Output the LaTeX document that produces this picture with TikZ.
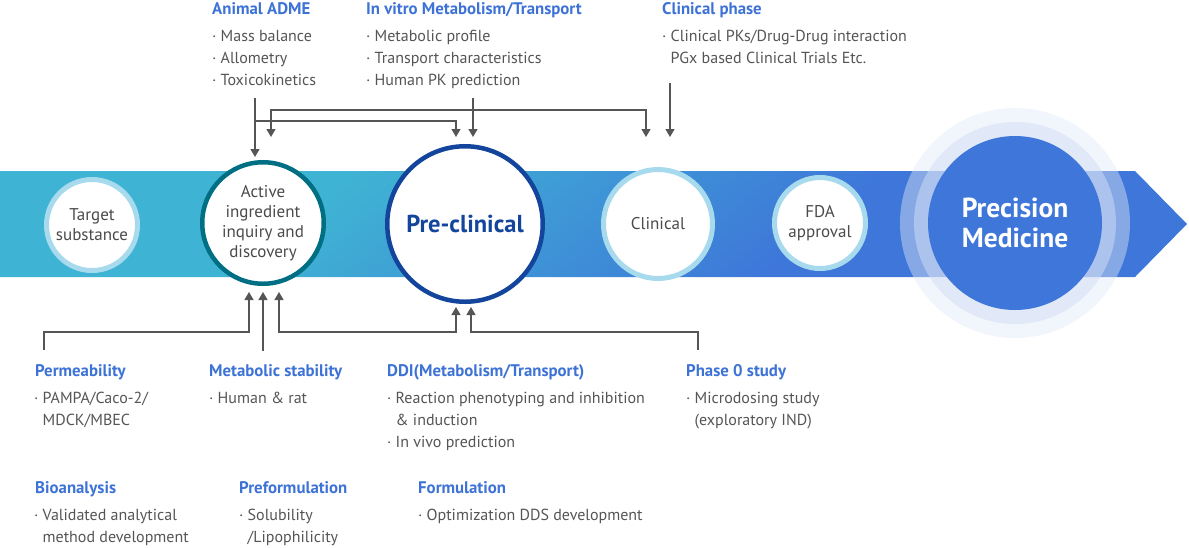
\documentclass[tikz,border=0pt]{standalone}
\usepackage{fontspec}
\setmainfont{PT Sans}
\usetikzlibrary{arrows.meta}

\definecolor{bandcyan}{HTML}{3FB3D3}
\definecolor{bandblue}{HTML}{3E77D9}
\definecolor{ringlight}{HTML}{A8DAEE}
\definecolor{ringteal}{HTML}{006F84}
\definecolor{ringnavy}{HTML}{13459C}
\definecolor{headblue}{HTML}{3D72D6}
\definecolor{txtgray}{HTML}{555555}
\definecolor{stagegray}{HTML}{4A4A4A}
\definecolor{linegray}{HTML}{555555}
\definecolor{haloout}{HTML}{DFE8F8}
\definecolor{haloin}{HTML}{D3DEF4}

\pgfdeclarehorizontalshading{bandshade}{100bp}{color(0bp)=(bandcyan); color(44bp)=(bandcyan); color(56bp)=(bandblue); color(100bp)=(bandblue)}

\newcommand\headfont{\fontsize{16.8}{20}\selectfont\bfseries}
\newcommand\listfont{\fontsize{16}{22}\selectfont}
\newcommand\stagefont{\fontsize{17}{20}\selectfont}
\newcommand\itm{\makebox[8.5pt][l]{·}}
\newcommand\cnt{\hspace*{8.5pt}}

\tikzset{
  head/.style={anchor=base west, inner sep=0pt, font=\headfont, text=headblue},
  items/.style={anchor=base west, inner sep=0pt, align=left, font=\listfont, text=txtgray},
  stage/.style={circle, fill=white, draw=ringlight, line width=5pt, inner sep=0pt, align=center, font=\stagefont, text=stagegray},
  link/.style={draw=linegray, line width=1.3pt},
  tip/.style={-{Triangle[width=9pt,length=8pt]}},
  backtip/.style={{Triangle[width=9pt,length=8pt]}-},
  twotips/.style={{Triangle[width=9pt,length=8pt]}-{Triangle[width=9pt,length=8pt]}},
}

\begin{document}
\begin{tikzpicture}[x=1pt, y=-1pt]
\useasboundingbox (0,0) rectangle (1189,547);

% band
\begin{scope}
  \clip (0,171) -- (1135,171) -- (1187,224) -- (1135,277) -- (0,277) -- cycle;
  \shade[shading=bandshade, shading angle=-50] (-140,-476) rectangle (1260,924);
\end{scope}

% halo round the last stage
\fill[haloout, opacity=0.45] (1015,223) circle[radius=115];
\fill[haloin, opacity=0.5] (1015,223) circle[radius=101];

% stages
\node[stage, minimum size=91pt] (target) at (92,225) {Target\\substance};
\node[stage, minimum size=121.5pt, draw=ringteal, line width=4.5pt] (active) at (263,223) {Active\\ingredient\\inquiry and\\discovery};
\node[stage, minimum size=155.5pt, draw=ringnavy, line width=4.5pt, text=ringnavy, font=\fontsize{24.5}{26}\selectfont\bfseries] (pre) at (465,224) {Pre-clinical};
\node[stage, minimum size=109pt] (clinical) at (658,224) {Clinical};
\node[stage, minimum size=91pt] (fda) at (820,223) {FDA\\approval};
\node[circle, fill=bandblue, minimum size=174pt, inner sep=0pt, align=center, text=white, font=\fontsize{27.5}{30}\selectfont\bfseries] (precision) at (1015,223) {Precision\\Medicine};

% upper texts (items anchored on their last line)
\node[head] (admeH) at (212,14) {Animal ADME};
\node[items] (admeL) at (212,85) {\itm Mass balance\\\itm Allometry\\\itm Toxicokinetics};
\node[head] (vitroH) at (366,14) {In vitro Metabolism/Transport};
\node[items] (vitroL) at (366,85) {\itm Metabolic profile\\\itm Transport characteristics\\\itm Human PK prediction};
\node[head] (phaseH) at (662,14) {Clinical phase};
\node[items] (phaseL) at (662,63) {\itm Clinical PKs/Drug-Drug interaction\\\cnt PGx based Clinical Trials Etc.};

% lower texts
\node[head] (permH) at (35,376) {Permeability};
\node[items] (permL) at (34,425) {\itm PAMPA/Caco-2/\\\cnt MDCK/MBEC};
\node[head] (stabH) at (209,376) {Metabolic stability};
\node[items] (stabL) at (209,403) {\itm Human \& rat};
\node[head] (ddiH) at (387,376) {DDI(Metabolism/Transport)};
\node[items] (ddiL) at (387,447) {\itm Reaction phenotyping and inhibition\\\cnt\& induction\\\itm In vivo prediction};
\node[head] (zeroH) at (686,376) {Phase 0 study};
\node[items] (zeroL) at (686,425) {\itm Microdosing study\\\cnt(exploratory IND)};
\node[head] (bioH) at (35,493) {Bioanalysis};
\node[items] (bioL) at (34,542) {\itm Validated analytical\\\cnt method development};
\node[head] (preforH) at (239,493) {Preformulation};
\node[items] (preforL) at (239,542) {\itm Solubility\\\cnt/Lipophilicity};
\node[head] (formH) at (418,493) {Formulation};
\node[items] (formL) at (418,520) {\itm Optimization DDS development};

% connector ends
\coordinate (admeOut) at (255,98);
\coordinate (admeJoin) at (255,121);
\coordinate (vitroOut) at (473,98);
\coordinate (phaseOut) at (670,83);
\coordinate (activeTopA) at (255,157);
\coordinate (activeTopB) at (271,137);
\coordinate (preTopA) at (456,137);
\coordinate (preTopB) at (473,137);
\coordinate (clinTopA) at (646,137);
\coordinate (clinTopB) at (670,137);
\coordinate (permOut) at (44,350);
\coordinate (stabOut) at (263,351);
\coordinate (zeroOut) at (698,350);
\coordinate (activeBotA) at (249,292);
\coordinate (activeBotB) at (263,292);
\coordinate (activeBotC) at (279,292);
\coordinate (preBotA) at (456,307);
\coordinate (preBotB) at (471,307);

% connectors above the band
\draw[link, tip] (admeOut) -- (activeTopA);
\draw[link, tip] (admeJoin) -| (preTopA);
\draw[link, tip] (vitroOut) -- (preTopB);
\draw[link, twotips] (activeTopB) -- ++(0,-27) -| (clinTopA);
\draw[link, tip] (phaseOut) -- (clinTopB);

% connectors below the band
\draw[link, tip] (permOut) -- ++(0,-18) -| (activeBotA);
\draw[link, tip] (stabOut) -- (activeBotB);
\draw[link, twotips] (activeBotC) -- ++(0,40) -| (preBotA);
\draw[link, backtip] (preBotB) -- ++(0,25) -| (zeroOut);
\end{tikzpicture}
\end{document}
